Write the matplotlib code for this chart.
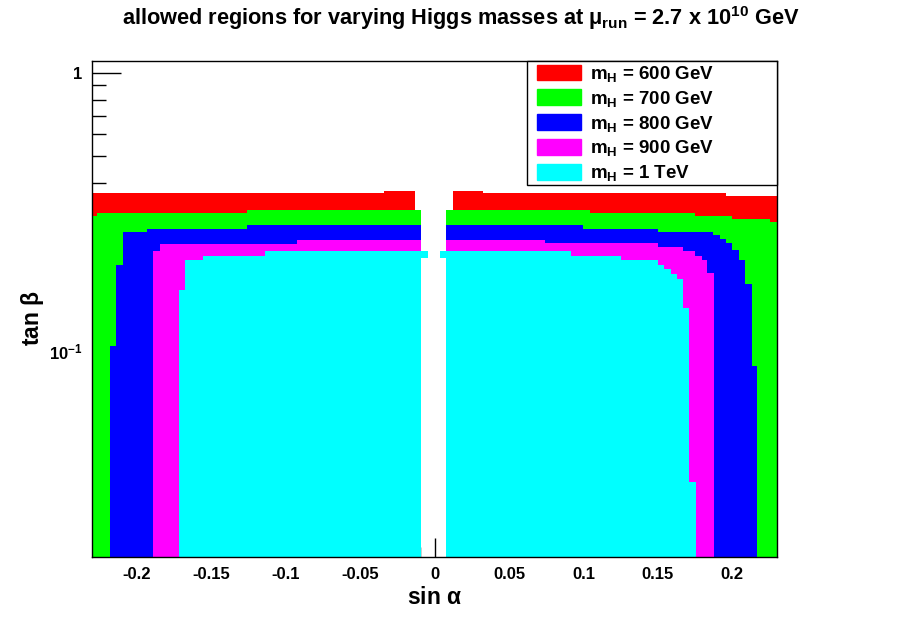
import numpy as np
import matplotlib
matplotlib.use("Agg")
import matplotlib.pyplot as plt
from matplotlib.patches import Patch, Rectangle

plt.rcParams['font.family'] = ['Liberation Sans', 'DejaVu Sans']
plt.rcParams['font.weight'] = 'bold'
plt.rcParams['mathtext.fontset'] = 'custom'
plt.rcParams['mathtext.rm'] = 'Liberation Sans:bold'
plt.rcParams['mathtext.bf'] = 'Liberation Sans:bold'
plt.rcParams['mathtext.it'] = 'Liberation Sans'

# axis ranges
XMIN, XMAX = -0.23, 0.23
YMIN, YMAX = 0.0183, 1.1

# upper tan(beta) edge of each allowed region, per sin(alpha) bin
# (YMIN means no allowed point in that bin)
edges_600 = [-0.2300, -0.0339, -0.0131, 0.0122, 0.0326, 0.1958, 0.2300]
tops_600 = [0.3690, 0.3760, YMIN, 0.3760, 0.3690, 0.3608]

edges_700 = [-0.2300, -0.2265, -0.1261, -0.0091, 0.0077, 0.1044, 0.1752, 0.1998, 0.2253, 0.2300]
tops_700 = [0.3059, 0.3130, 0.3215, YMIN, 0.3215, 0.3130, 0.3059, 0.2985, 0.2904]

edges_800 = [-0.2179, -0.2139, -0.2094, -0.1929, -0.1261, -0.0091, 0.0077, 0.0995, 0.1499,
             0.1872, 0.1917, 0.1958, 0.1998, 0.2045, 0.2085, 0.2130, 0.2168]
tops_800 = [0.1046, 0.2042, 0.2675, 0.2748, 0.2840, YMIN, 0.2840, 0.2748, 0.2688,
            0.2609, 0.2524, 0.2443, 0.2311, 0.2128, 0.1741, 0.0887]

edges_900 = [-0.1889, -0.1844, -0.0925, -0.0091, 0.0077, 0.0744, 0.1499, 0.1671, 0.1752,
             0.1794, 0.1832, 0.1877]
tops_900 = [0.2292, 0.2428, 0.2510, YMIN, 0.2510, 0.2443, 0.2375, 0.2292, 0.2199, 0.2128, 0.1907]

edges_1000 = [-0.1718, -0.1676, -0.1553, -0.1136, -0.0091, -0.0046, 0.0037, 0.0077, 0.0917,
              0.1251, 0.1499, 0.1543, 0.1586, 0.1627, 0.1671, 0.1709, 0.1754]
tops_1000 = [0.1661, 0.2128, 0.2199, 0.2292, 0.2292, YMIN, 0.2292, 0.2292, 0.2199,
             0.2128, 0.2042, 0.1970, 0.1891, 0.1815, 0.1435, 0.0340]
# lower edge (only the two little bins next to the gap don't reach the bottom)
bottoms_1000 = [YMIN, YMIN, YMIN, YMIN, 0.2163, YMIN, 0.2163, YMIN, YMIN,
                YMIN, YMIN, YMIN, YMIN, YMIN, YMIN, YMIN]

labels = ["600 GeV", "700 GeV", "800 GeV", "900 GeV", "1 TeV"]
colores = ["#ff0000", "#00ff00", "#0000ff", "#ff00ff", "#00ffff"]

regiones = [
    (edges_600, tops_600, YMIN),
    (edges_700, tops_700, YMIN),
    (edges_800, tops_800, YMIN),
    (edges_900, tops_900, YMIN),
    (edges_1000, tops_1000, np.array(bottoms_1000)),
]

fig = plt.figure(figsize=(9.13, 6.19), dpi=100)
ax = fig.add_axes([0.10077, 0.10016, 0.75027, 0.80129])
ax.set_yscale('log')
ax.set_axisbelow(True)

for (e, t, b), c in zip(regiones, colores):
    ax.stairs(t, e, baseline=b, fill=True, color=c, lw=0, zorder=1)

ax.set_xlim(XMIN, XMAX)
ax.set_ylim(YMIN, YMAX)

ax.set_xticks([-0.2, -0.15, -0.1, -0.05, 0, 0.05, 0.1, 0.15, 0.2])
ax.set_xticklabels(["-0.2", "-0.15", "-0.1", "-0.05", "0", "0.05", "0.1", "0.15", "0.2"])
ax.set_xticks(np.arange(-0.22, 0.2201, 0.01), minor=True)
ax.set_yticks([0.1, 1])
ax.set_yticklabels([r"10$^{\mathrm{-1}}$", "1"])
ax.set_yticks([0.02, 0.03, 0.04, 0.05, 0.06, 0.07, 0.08, 0.09,
               0.2, 0.3, 0.4, 0.5, 0.6, 0.7, 0.8, 0.9], minor=True)
ax.yaxis.set_minor_formatter(matplotlib.ticker.NullFormatter())
ax.tick_params(axis='x', which='major', direction='in', length=14, width=1, labelsize=12, pad=7)
ax.tick_params(axis='x', which='minor', direction='in', length=7, width=1)
ax.tick_params(axis='y', which='major', direction='in', length=21, width=1, labelsize=12, pad=7)
ax.tick_params(axis='y', which='minor', direction='in', length=10, width=1)
for lab in ax.get_xticklabels() + ax.get_yticklabels():
    lab.set_fontweight('bold')
for s in ax.spines.values():
    s.set_linewidth(1)
    s.set_zorder(3)

fig.text(434.5 / 913, 1 - 598 / 619, r"sin $\alpha$", ha='center', va='center',
         fontsize=16.5, fontweight='bold')
fig.text(33 / 913, 1 - 318 / 619, r"tan $\beta$", ha='center', va='center', rotation=90,
         fontsize=16.5, fontweight='bold')
fig.text(0.505, 1 - 18 / 619,
         r"allowed regions for varying Higgs masses at $\mu_{\mathrm{run}}$ = 2.7 x 10$^{\mathrm{10}}$ GeV",
         ha='center', va='center', fontsize=15.7, fontweight='bold')

# legend box (drawn separately so the entries can sit a bit inside it)
ax.add_patch(Rectangle((0.635, 0.75), 0.365, 0.25, transform=ax.transAxes,
                       facecolor='white', edgecolor='black', lw=1, zorder=4, clip_on=False))
handles = [Patch(facecolor=c, edgecolor=c) for c in colores]
leg = ax.legend(handles, ["m$_{\\mathrm{H}}$ = " + l for l in labels],
                loc='upper left', bbox_to_anchor=(0.646, 1.0), frameon=False,
                fontsize=13.5, borderaxespad=0, handlelength=2.35, handleheight=0.9,
                labelspacing=0.26, borderpad=0.15, handletextpad=0.48)
leg.set_zorder(5)

fig.savefig("out.png", dpi=100)
